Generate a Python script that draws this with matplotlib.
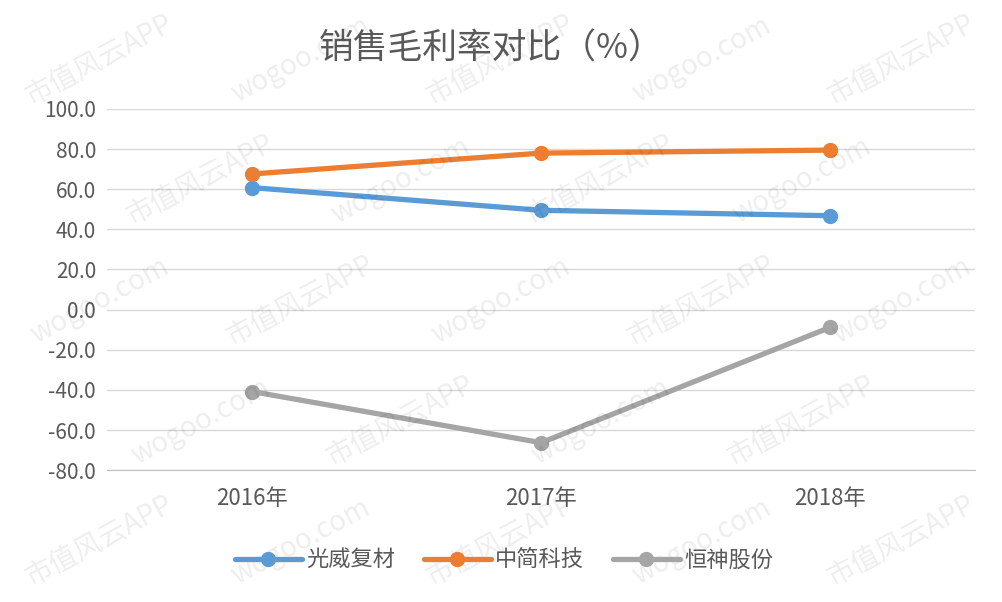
import matplotlib
matplotlib.use("Agg")
import matplotlib.pyplot as plt

plt.rcParams['font.family'] = ['Noto Sans CJK SC', 'DejaVu Sans']

# data
YEARS = ["2016年", "2017年", "2018年"]
GUANGWEI = [60.8, 49.5, 46.8]     # 光威复材
ZHONGJIAN = [67.6, 78.0, 79.5]    # 中简科技
HENGSHEN = [-40.8, -66.3, -8.8]   # 恒神股份
SERIES_NAMES = ["光威复材", "中简科技", "恒神股份"]
COLORS = ["#5B9BD5", "#ED7D31", "#A5A5A5"]
Y_TICKS = list(range(-80, 101, 20))

TEXT = "#595959"

fig = plt.figure(figsize=(10.02, 6.02), dpi=100)
ax = fig.add_axes([0.107, 0.219, 0.866, 0.6])

x = list(range(len(YEARS)))
for vals, name, col in zip([GUANGWEI, ZHONGJIAN, HENGSHEN], SERIES_NAMES, COLORS):
    ax.plot(x, vals, color=col, lw=3.8, marker="o", ms=10, label=name,
            solid_capstyle="round", zorder=3)

ax.set_xlim(-0.5, len(YEARS) - 0.5)
ax.set_ylim(-80, 100)
ax.set_yticks(Y_TICKS)
ax.set_yticklabels([f"{v:.1f}" for v in Y_TICKS], fontsize=15, color=TEXT)
ax.set_xticks(x)
ax.set_xticklabels(YEARS, fontsize=16, color=TEXT)
ax.tick_params(length=0, pad=8)
ax.tick_params(axis="x", pad=12)
ax.grid(axis="y", color="#D9D9D9", lw=1)
ax.set_axisbelow(True)
for s in ["top", "right", "left"]:
    ax.spines[s].set_visible(False)
ax.spines["bottom"].set_color("#BFBFBF")

fig.text(0.49, 0.918, "销售毛利率对比（%）", ha="center", va="center",
         fontsize=25, color=TEXT)

fig.legend(loc="center", bbox_to_anchor=(0.503, 0.07), ncol=3, frameon=False,
           fontsize=16, labelcolor=TEXT, handlelength=3.0, columnspacing=1.3,
           handletextpad=0.2)

# faint diagonal watermarks
marks = ["市值风云APP", "wogoo.com"]
k = 0
for row in range(5):
    for col in range(5):
        fx = 0.1 + col * 0.2 + (row % 2) * 0.1
        fy = 0.1 + row * 0.2
        if fx > 0.92:
            continue
        fig.text(fx, fy, marks[k % 2], rotation=28, fontsize=20,
                 color="#000000", alpha=0.07, ha="center", va="center")
        k += 1

fig.savefig("out.png", dpi=100, facecolor="white")
